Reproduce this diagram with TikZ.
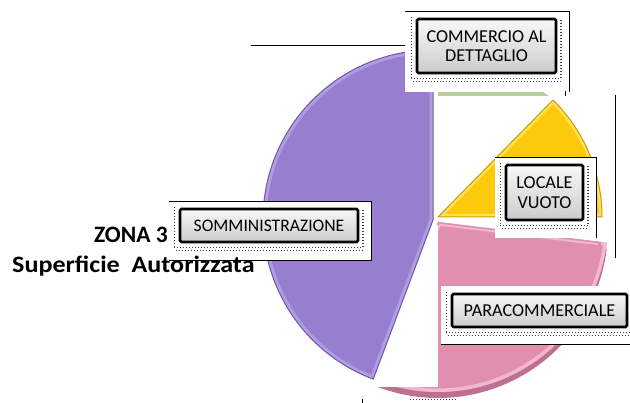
\documentclass[tikz,border=0pt]{standalone}
\usepackage{fontspec}
\setmainfont{Carlito}
\usetikzlibrary{shadings}
\definecolor{purp}{RGB}{152,126,206}
\definecolor{purpl}{RGB}{178,156,226}
\definecolor{purpd}{RGB}{112,88,170}
\definecolor{pinkc}{RGB}{224,144,174}
\definecolor{pinkl}{RGB}{242,184,206}
\definecolor{pinkd}{RGB}{190,112,146}
\definecolor{yell}{RGB}{252,202,12}
\definecolor{yelll}{RGB}{255,226,90}
\definecolor{yelld}{RGB}{206,156,0}
\definecolor{grn}{RGB}{184,204,156}
\tikzset{
  lblbox/.style={draw=black, line width=2.6pt, rounded corners=1.5pt,
    top color=gray!6, bottom color=gray!40, align=center, inner sep=1pt,
    text=black, font=\fontsize{18.2}{19.5}\selectfont},
  dotline/.style={line width=1.4pt, dash pattern=on 1.2pt off 1.8pt, black!75},
  frameline/.style={line width=0.9pt, black},
  bigtext/.style={font=\fontsize{23.5}{25}\selectfont\bfseries, inner sep=0pt, text=black}
}
\newcommand\mklabel[6]{%
  \node[lblbox, minimum width=#4pt, minimum height=#5pt] (#1) at (#2,#3) {#6};
  \draw[dotline] ([xshift=-4.5pt,yshift=1pt]#1.north west) -- ([xshift=-4.5pt,yshift=-4pt]#1.south west);
  \draw[dotline] ([xshift=3.5pt,yshift=-2pt]#1.north east) -- ([xshift=3.5pt,yshift=-4pt]#1.south east);
  \draw[dotline] ([xshift=-4.5pt,yshift=-4.5pt]#1.south west) -- ([xshift=3.5pt,yshift=-4.5pt]#1.south east);
  \draw[dotline] ([xshift=-3pt,yshift=-7.5pt]#1.south west) -- ([xshift=3.5pt,yshift=-7.5pt]#1.south east);
}
\newcommand\slicepath[4]{(#1) -- ++(#2:#4pt) arc[start angle=#2,end angle=#3,radius=#4pt] -- cycle}
\begin{document}
\begin{tikzpicture}[x=1pt,y=-1pt]
\useasboundingbox (0,0) rectangle (630,403);
% pink slice with rim
\fill[pinkd] \slicepath{438,228}{249.4}{353}{170};
\fill[pinkc] \slicepath{438,222}{249.4}{353}{170};
\begin{scope}
  \clip \slicepath{438,222}{249.4}{353}{170};
  \draw[pinkl, line width=7pt] \slicepath{438,222}{249.4}{353}{170};
  \draw[pinkc, line width=3pt] \slicepath{438,222}{249.4}{353}{163};
\end{scope}
% white block
\fill[white] (372,225) rectangle (438,387);
% purple slice
\fill[purp] \slicepath{433,220}{90}{249.4}{170};
\begin{scope}
  \clip \slicepath{433,220}{90}{249.4}{170};
  \draw[purpl, line width=7pt] \slicepath{433,220}{90}{249.4}{170};
\end{scope}
\draw[purpd, line width=1pt] \slicepath{433,220}{90}{249.4}{170};
% green strip
\fill[grn] (438,91) -- (541,91) -- (549,96) -- (438,96) -- cycle;
% yellow slice
\fill[yell] \slicepath{438,217}{0}{45.5}{164};
\begin{scope}
  \clip \slicepath{438,217}{0}{45.5}{164};
  \draw[yelll, line width=6pt] \slicepath{438,217}{0}{45.5}{164};
\end{scope}
\draw[yelld, line width=1pt] \slicepath{438,217}{0}{45.5}{164};
% white label backgrounds
\fill[white] (405,11) rectangle (569,92);
\draw[frameline] (405,11) -- (569,11) -- (569,92);
\draw[frameline] (565,91) -- (565,96);
\fill[white] (169,201) rectangle (371,260);
\draw[frameline] (169,201) -- (371,201) -- (371,260) -- (169,260);
\fill[white] (495,157) rectangle (596,238);
\draw[frameline] (495,157) -- (596,157) -- (596,238);
\fill[white] (441,286) rectangle (632,344);
\draw[frameline] (441,344) -- (632,344);
% stray frame lines
\draw[frameline] (251,45) -- (405,45);
\draw[frameline] (615,95) -- (615,258);
\draw[frameline] (362,399) -- (362,404);
\draw[dotline] (410,399.5) -- (456,399.5);
% labels
\mklabel{comm}{486.5}{46}{139}{54}{COMMERCIO AL\\DETTAGLIO}
\mklabel{somm}{269}{225.5}{178}{33}{\fontsize{17.6}{19}\selectfont SOMMINISTRAZIONE}
\mklabel{loc}{544.5}{192.5}{77}{55}{LOCALE\\VUOTO}
\mklabel{para}{539.5}{310.5}{175}{33}{PARACOMMERCIALE}
% title
\node[bigtext, anchor=base east] (zona) at (168,243) {ZONA 3};
\node[bigtext, anchor=base west] (sup) at (12,273) {\scalebox{1.11}[1]{Superficie\ \ Autorizzata}};
\end{tikzpicture}
\end{document}
